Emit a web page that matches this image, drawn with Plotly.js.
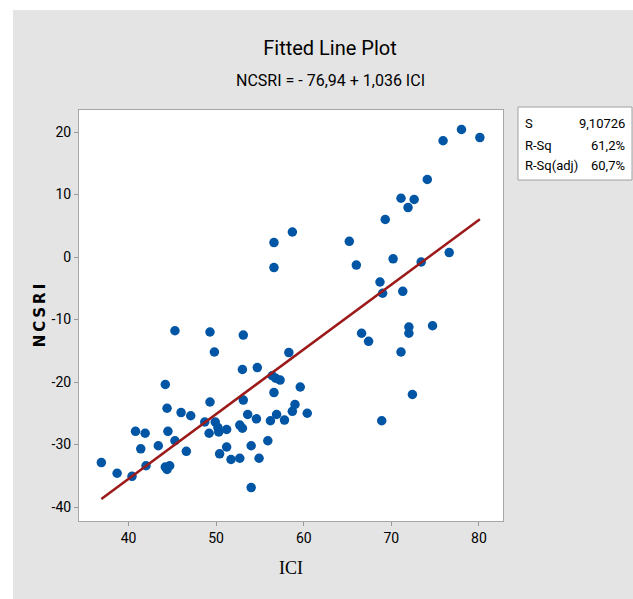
<!DOCTYPE html>
<html>
<head>
<meta charset="utf-8">
<script src="https://cdn.plot.ly/plotly-3.0.1.min.js"></script>
<style>
html,body{margin:0;padding:0;background:#ffffff;width:633px;height:599px;overflow:hidden;}
#chart{position:absolute;left:13px;top:10px;width:620px;height:589px;}
</style>
</head>
<body>
<div id="chart"></div>
<script>
// ICI values (x)
const ici = [58.7,56.6,56.6,78.0,75.9,80.1,74.1,71.1,72.6,71.9,69.3,65.2,66.0,70.2,68.7,69.0,71.3,73.4,76.6,
  66.6,67.4,72.0,72.0,74.7,71.1,72.4,68.9,60.4,45.3,49.3,53.1,49.8,58.3,53.0,54.7,56.4,56.8,57.3,59.6,44.2,
  56.6,53.1,49.3,44.4,46.0,47.1,59.0,58.7,53.6,54.6,56.9,56.2,57.8,48.7,49.9,50.2,49.2,50.3,51.2,52.7,53.0,
  40.8,41.9,44.5,43.4,41.4,45.3,51.2,54.0,55.9,46.6,50.4,51.7,52.7,54.9,36.9,38.7,40.4,42.0,44.2,44.7,44.4,54.0];
// NCSRI values (y)
const ncsri = [4.0,2.3,-1.7,20.4,18.6,19.1,12.4,9.4,9.2,7.9,6.0,2.5,-1.3,-0.3,-4.0,-5.8,-5.5,-0.8,0.7,
  -12.2,-13.5,-11.2,-12.2,-11.0,-15.2,-22.0,-26.2,-25.0,-11.8,-12.0,-12.5,-15.2,-15.3,-18.0,-17.7,-19.0,-19.4,-19.7,-20.8,-20.4,
  -21.7,-22.9,-23.2,-24.2,-24.9,-25.4,-23.6,-24.7,-25.2,-25.9,-25.2,-26.2,-26.1,-26.4,-26.4,-27.3,-28.2,-28.0,-27.6,-26.9,-27.4,
  -27.9,-28.2,-27.9,-30.2,-30.7,-29.4,-30.4,-30.2,-29.4,-31.1,-31.5,-32.4,-32.2,-32.2,-32.9,-34.6,-35.1,-33.4,-33.6,-33.4,-34.0,-36.9];
// Regression coefficients (from the chart subtitle)
const intercept = -76.94;
const slope = 1.036;
// Summary statistics
const statLabels = ["S", "R-Sq", "R-Sq(adj)"];
const statValues = ["9,10726", "61,2%", "60,7%"];
// Tick labels
const xTicks = [40, 50, 60, 70, 80];
const yTicks = [20, 10, 0, -10, -20, -30, -40];

const fitX = [Math.min(...ici), Math.max(...ici)];
const fitY = fitX.map(v => intercept + slope * v);

const narrow = 'Roboto, "Liberation Sans", sans-serif';

const traces = [
  {x: ici, y: ncsri, type: 'scatter', mode: 'markers',
   marker: {color: '#0055a5', size: 9.5}, hoverinfo: 'x+y', showlegend: false},
  {x: fitX, y: fitY, type: 'scatter', mode: 'lines',
   line: {color: '#9c1a1a', width: 2.5}, showlegend: false}
];

// Plot area in page px: left 79, right 503, top 110, bottom 521
const pL = 79, pR = 503, pT = 110, pB = 521;
const px = v => (v - pL) / (pR - pL);
const py = v => (pB - v) / (pB - pT);

const annotations = [
  {xref: 'paper', yref: 'paper', x: px(330), y: py(80), text: 'NCSRI = - 76,94 + 1,036 ICI',
   showarrow: false, xanchor: 'center', yanchor: 'middle',
   font: {family: narrow, size: 16, color: '#000'}}
];
const rowsY = [124, 145, 166];
statLabels.forEach((t, i) => {
  annotations.push({xref: 'paper', yref: 'paper', x: px(523), y: py(rowsY[i]), text: t, showarrow: false,
    xanchor: 'left', yanchor: 'middle', font: {family: narrow, size: 13, color: '#000'}});
  annotations.push({xref: 'paper', yref: 'paper', x: px(627), y: py(rowsY[i]), text: statValues[i], showarrow: false,
    xanchor: 'right', yanchor: 'middle', font: {family: narrow, size: 13, color: '#000'}});
});

const layout = {
  width: 620, height: 589,
  paper_bgcolor: '#e4e4e4',
  plot_bgcolor: '#ffffff',
  margin: {l: 66, r: 130, t: 100, b: 78},
  title: {text: 'Fitted Line Plot', font: {family: narrow, size: 20, color: '#000'},
          xref: 'paper', x: px(330), xanchor: 'center', yref: 'container', y: 1 - (48 - 10) / 589, yanchor: 'middle'},
  xaxis: {range: [34.35, 82.74], tickvals: xTicks, ticktext: xTicks.map(String),
          ticks: 'outside', ticklen: 4, tickcolor: '#999', tickfont: {family: narrow, size: 14, color: '#000'},
          showgrid: false, zeroline: false, showline: true, mirror: true, linecolor: '#a6a6a6', linewidth: 1,
          title: {text: 'ICI', font: {family: '"Liberation Serif", serif', size: 18, color: '#000'}, standoff: 16}},
  yaxis: {range: [-42.24, 23.52], tickvals: yTicks, ticktext: yTicks.map(String),
          ticks: 'outside', ticklen: 4, tickcolor: '#999', tickfont: {family: narrow, size: 14, color: '#000'},
          showgrid: false, zeroline: false, showline: true, mirror: true, linecolor: '#a6a6a6', linewidth: 1,
          title: {text: 'N\u2009C\u2009S\u2009R\u2009I', font: {family: '"DejaVu Sans", sans-serif', size: 15, color: '#000', weight: 'bold'}, standoff: 2}},
  shapes: [
    {type: 'rect', xref: 'paper', yref: 'paper', x0: px(518), x1: px(632), y0: py(180), y1: py(107),
     fillcolor: '#ffffff', line: {color: '#a0a0a0', width: 1}, layer: 'below'}
  ],
  annotations: annotations
};

Plotly.newPlot('chart', traces, layout, {displayModeBar: false, staticPlot: true});
</script>
</body>
</html>
